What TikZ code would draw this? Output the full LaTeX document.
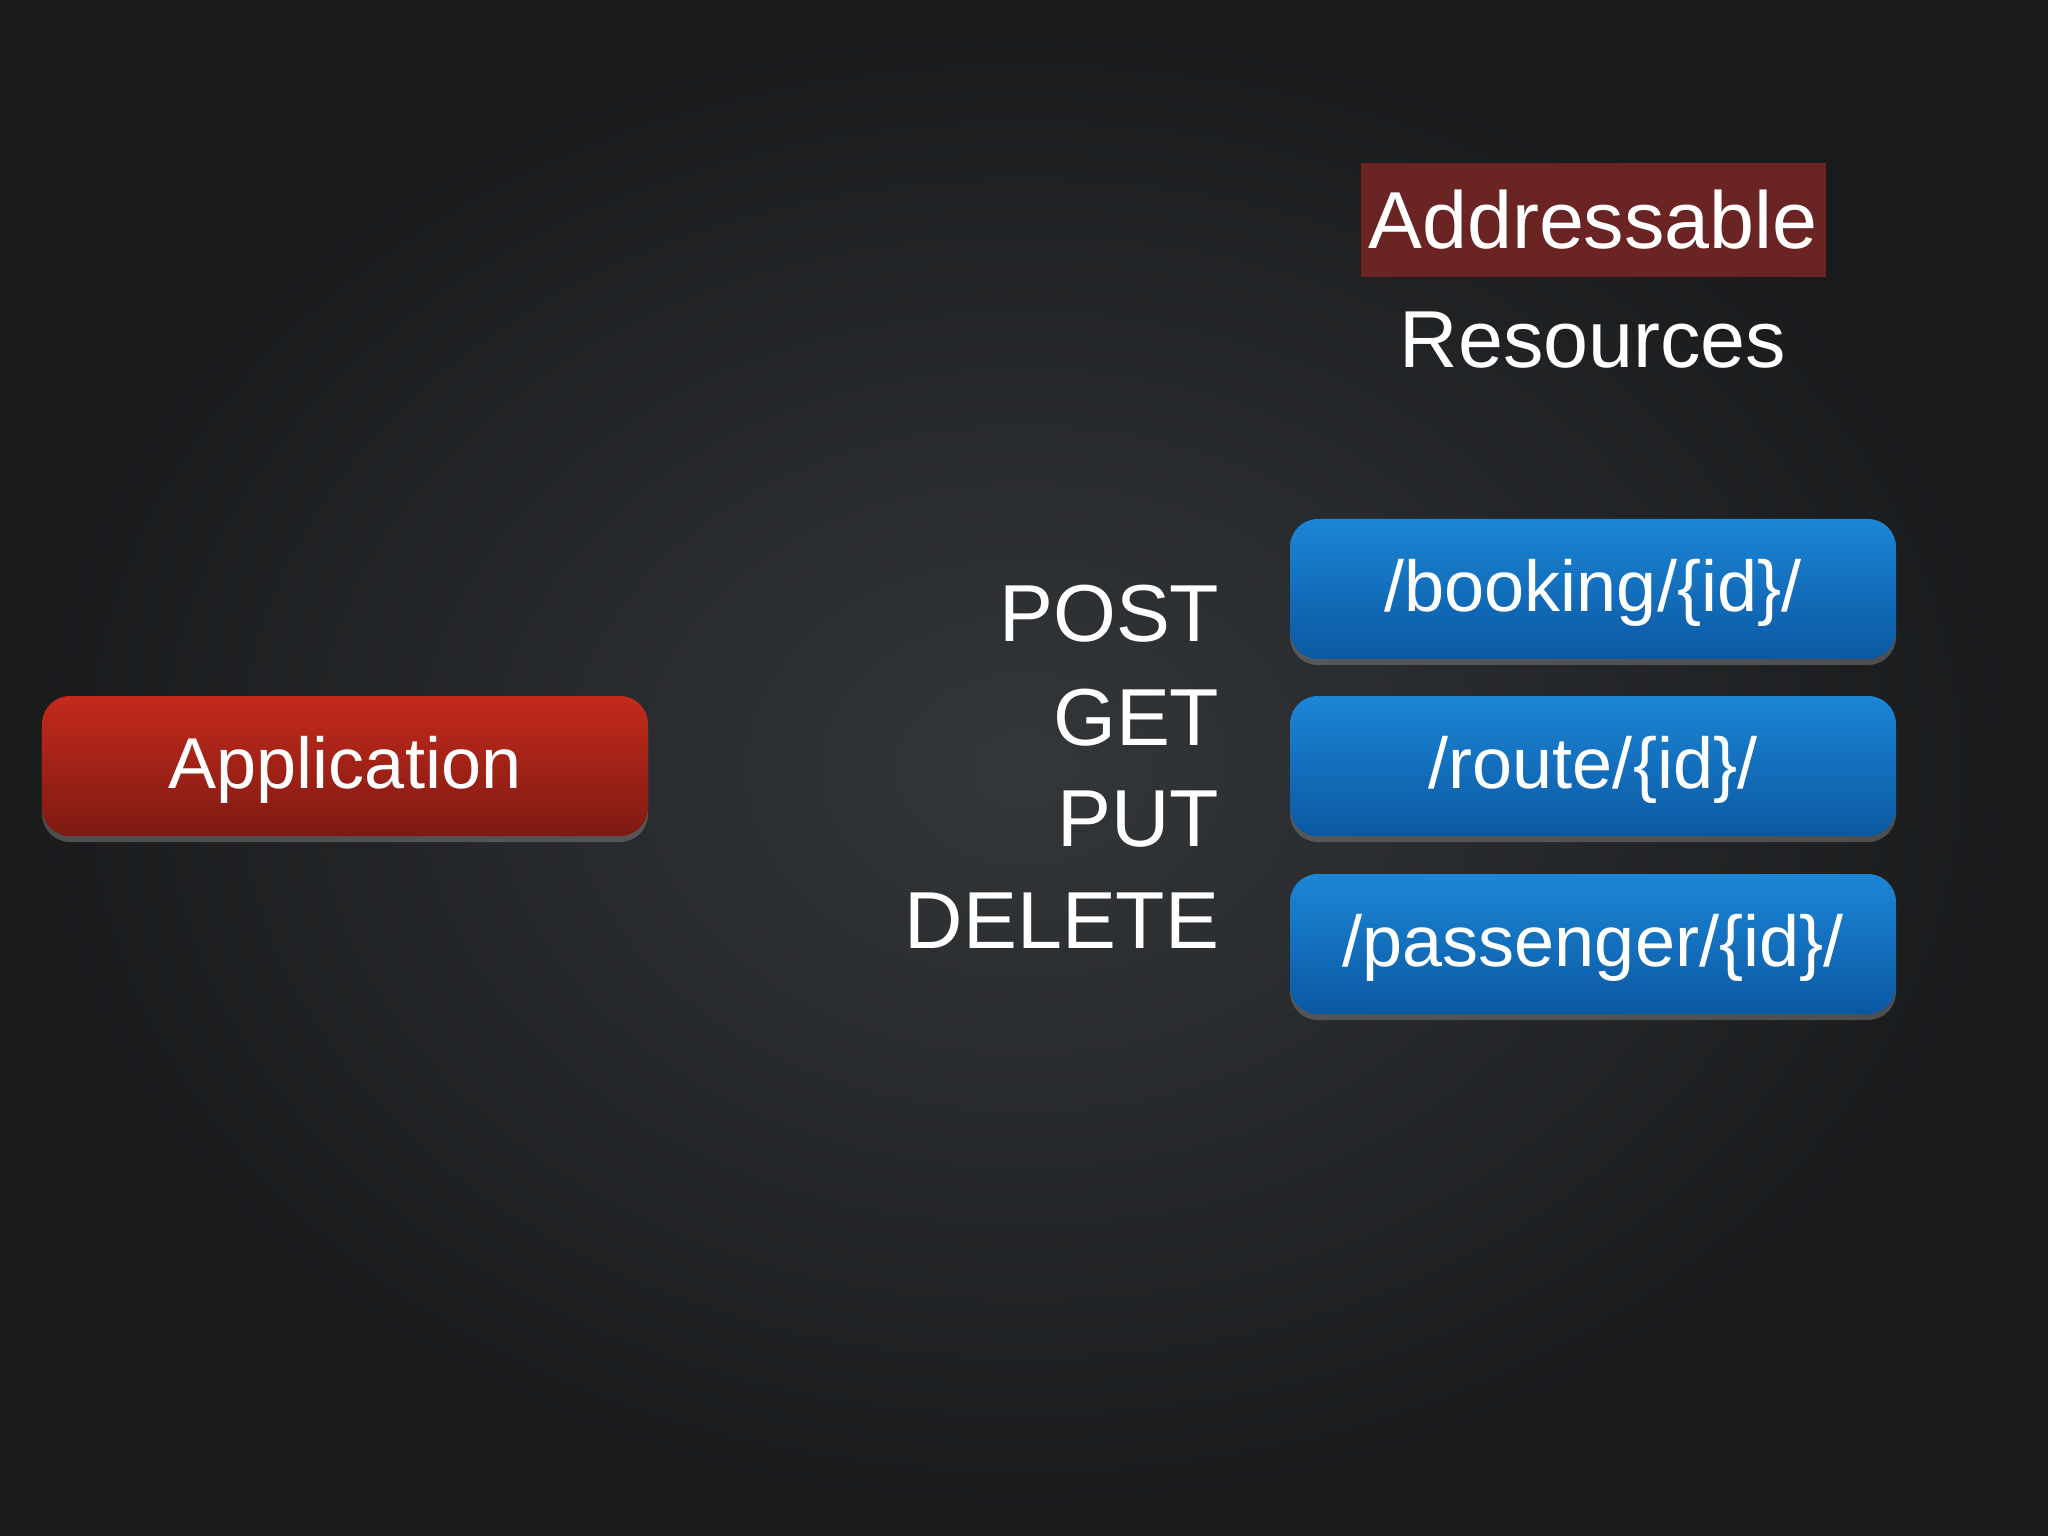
\documentclass[tikz,border=0pt]{standalone}
\usepackage{fontspec}
\setmainfont{Liberation Sans}
\usetikzlibrary{shadows}
\definecolor{bgc}{HTML}{34373A}
\definecolor{bge}{HTML}{181A1C}
\definecolor{redA}{HTML}{C42A1C}
\definecolor{redB}{HTML}{7E1A12}
\definecolor{bluA}{HTML}{1C86D6}
\definecolor{bluB}{HTML}{0B58A2}
\definecolor{hl}{HTML}{6A2424}
\tikzset{
 txt/.style={text=white,font=\fontsize{23}{28}\selectfont},
 box/.style={rounded corners=0.28cm,minimum width=6.06cm,minimum height=1.40cm,inner sep=2pt,text=white,font=\fontsize{20.5}{25}\selectfont,text depth=0.08cm,drop shadow={opacity=0.5,shadow xshift=0cm,shadow yshift=-0.06cm}},
 redbox/.style={box,top color=redA,bottom color=redB},
 bluebox/.style={box,top color=bluA,bottom color=bluB},
 verb/.style={txt,anchor=east,inner sep=0pt}
}
\begin{document}
\begin{tikzpicture}
\useasboundingbox (0,0) rectangle (20.48,-15.36);
\shade[inner color=bgc,outer color=bge] (0,0) rectangle (20.48,-15.36);
\node[redbox] (app) at (3.45,-7.66) {Application};
\node[bluebox] (b1) at (15.93,-5.89) {/booking/\{id\}/};
\node[bluebox] (b2) at (15.93,-7.66) {/route/\{id\}/};
\node[bluebox] (b3) at (15.93,-9.44) {/passenger/\{id\}/};
\node[txt,fill=hl,minimum width=4.65cm,minimum height=1.14cm,inner sep=0pt] (addr) at (15.93,-2.20) {Addressable};
\node[txt] (res) at (15.93,-3.40) {Resources};
\node[verb] (post) at (12.20,-6.14) {POST};
\node[verb] (get) at (12.20,-7.18) {GET};
\node[verb] (put) at (12.20,-8.19) {PUT};
\node[verb] (del) at (12.20,-9.21) {DELETE};
\end{tikzpicture}
\end{document}
